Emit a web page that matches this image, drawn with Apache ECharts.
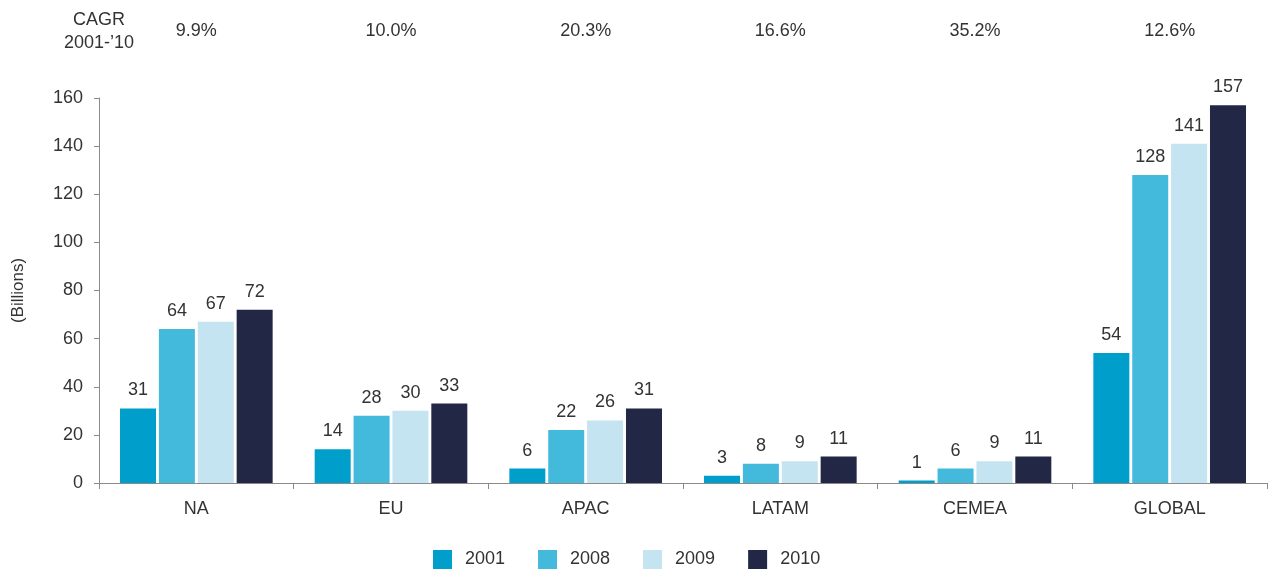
<!DOCTYPE html>
<html>
<head>
<meta charset="utf-8">
<script src="https://cdn.jsdelivr.net/npm/echarts@6/dist/echarts.min.js"></script>
<style>html,body{margin:0;padding:0;background:#fff;}#c{width:1271px;height:569px;}</style>
</head>
<body>
<div id="c"></div>
<script>
const categories = ['NA', 'EU', 'APAC', 'LATAM', 'CEMEA', 'GLOBAL'];
const cagrLabels = ['9.9%', '10.0%', '20.3%', '16.6%', '35.2%', '12.6%'];
const years = ['2001', '2008', '2009', '2010'];
const v2001 = [31, 14, 6, 3, 1, 54];
const v2008 = [64, 28, 22, 8, 6, 128];
const v2009 = [67, 30, 26, 9, 9, 141];
const v2010 = [72, 33, 31, 11, 11, 157];
const yTicks = [0, 20, 40, 60, 80, 100, 120, 140, 160];

const colors = ['#009ecb', '#43b9dc', '#c3e4f0', '#212744'];
const font = '"Liberation Sans", Arial, Helvetica, sans-serif';
const txt = '#333333';
const axisCol = '#8a8a8a';
const seriesVals = [v2001, v2008, v2009, v2010];

const chart = echarts.init(document.getElementById('c'), null, {renderer: 'canvas'});
chart.setOption({
  animation: false,
  textStyle: {fontFamily: font},
  grid: {left: 99, right: 4, top: 98, bottom: 86, containLabel: false},
  graphic: [{
    type: 'text', x: 99, y: 9,
    style: {text: 'CAGR\n2001-\u201910', font: '18px ' + font, fill: txt, textAlign: 'center', align: 'center', lineHeight: 23}
  }],
  legend: {
    data: years, left: 433, top: 550, padding: 0, itemWidth: 19, itemHeight: 19, itemGap: 33,
    icon: 'rect',
    textStyle: {fontSize: 18, color: txt, fontFamily: font, padding: [0, 0, 0, 8]}
  },
  xAxis: [{
    type: 'category', data: categories, position: 'bottom',
    axisLine: {lineStyle: {color: axisCol, width: 1}},
    axisTick: {show: true, length: 6, alignWithLabel: false, lineStyle: {color: axisCol}},
    axisLabel: {fontSize: 18, color: txt, margin: 17, fontFamily: font}
  }, {
    type: 'category', data: cagrLabels, position: 'top',
    axisLine: {show: false}, axisTick: {show: false},
    axisLabel: {fontSize: 18, color: txt, margin: 58, fontFamily: font}
  }],
  yAxis: {
    type: 'value', min: 0, max: 160, interval: 20,
    name: '(Billions)', nameLocation: 'middle', nameGap: 72, nameRotate: 90,
    nameTextStyle: {fontSize: 17, color: txt, fontFamily: font},
    axisLine: {show: true, lineStyle: {color: axisCol, width: 1}},
    axisTick: {show: true, length: 5, lineStyle: {color: axisCol}},
    splitLine: {show: false},
    axisLabel: {fontSize: 18, color: txt, margin: 16, fontFamily: font,
      formatter: v => yTicks.includes(v) ? String(v) : ''}
  },
  series: years.map((y, i) => ({
    name: y, type: 'bar', data: seriesVals[i], xAxisIndex: 0,
    barWidth: 36, barGap: '8%',
    itemStyle: {color: colors[i]},
    label: {show: true, position: 'top', distance: 9, fontSize: 18, color: txt, fontFamily: font}
  }))
});
</script>
</body>
</html>
